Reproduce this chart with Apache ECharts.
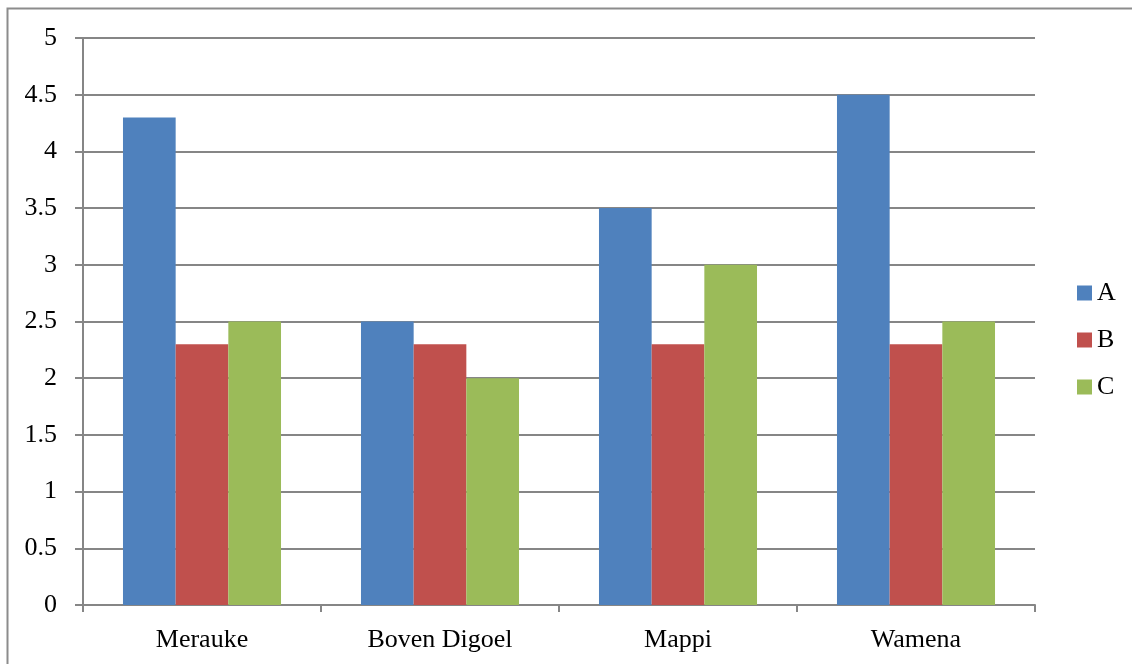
<!DOCTYPE html>
<html><head><meta charset="utf-8">
<script src="https://cdn.jsdelivr.net/npm/echarts@6/dist/echarts.min.js"></script>
<style>html,body{margin:0;padding:0;background:#fff}#c{width:1132px;height:664px}</style>
</head><body><div id="c"></div>
<script>
const categories = ['Merauke', 'Boven Digoel', 'Mappi', 'Wamena'];
const seriesA = [4.3, 2.5, 3.5, 4.5];
const seriesB = [2.3, 2.3, 2.3, 2.3];
const seriesC = [2.5, 2.0, 3.0, 2.5];
const seriesNames = ['A', 'B', 'C'];
const colors = ['#4F81BD', '#C0504D', '#9BBB59'];
const font = '"Liberation Serif", serif';
const chart = echarts.init(document.getElementById('c'));
chart.setOption({
  animation: false,
  color: colors,
  textStyle: { fontFamily: font },
  graphic: [{ type: 'rect', shape: { x: 7.5, y: 8.5, width: 1140, height: 700 }, style: { fill: 'none', stroke: '#8c8c8c', lineWidth: 2 }, silent: true }],
  grid: { left: 83, right: 97, top: 38, bottom: 59, containLabel: false },
  legend: {
    orient: 'vertical', left: 1072, top: 275, itemWidth: 15, itemHeight: 15, itemGap: 21,
    icon: 'rect', textStyle: { fontFamily: font, fontSize: 26, color: '#000', lineHeight: 26 },
    data: seriesNames
  },
  xAxis: {
    type: 'category', data: categories,
    axisLine: { lineStyle: { color: '#868686', width: 2 } },
    axisTick: { show: true, length: 7, lineStyle: { color: '#868686', width: 2 } },
    axisLabel: { fontFamily: font, fontSize: 26, color: '#000', margin: 22 }
  },
  yAxis: {
    type: 'value', min: 0, max: 5, interval: 0.5,
    axisLine: { show: true, lineStyle: { color: '#868686', width: 2 } },
    axisTick: { show: true, length: 8, lineStyle: { color: '#868686', width: 2 } },
    splitLine: { lineStyle: { color: '#868686', width: 2 } },
    axisLabel: { fontFamily: font, fontSize: 26, color: '#000', margin: 26 }
  },
  series: [
    { name: seriesNames[0], type: 'bar', data: seriesA, barGap: '0%', barCategoryGap: '33.6%' },
    { name: seriesNames[1], type: 'bar', data: seriesB, barGap: '0%', barCategoryGap: '33.6%' },
    { name: seriesNames[2], type: 'bar', data: seriesC, barGap: '0%', barCategoryGap: '33.6%' }
  ]
});
</script></body></html>
